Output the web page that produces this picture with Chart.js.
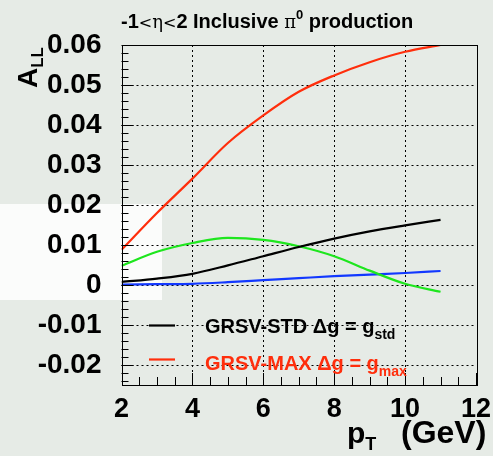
<!DOCTYPE html>
<html>
<head>
<meta charset="utf-8">
<script src="https://cdn.jsdelivr.net/npm/chart.js@4/dist/chart.umd.min.js"></script>
<style>
  html, body { margin: 0; padding: 0; background: #e6ebe6; }
  #wrap { position: relative; width: 493px; height: 456px; overflow: hidden; }
  canvas { display: block; }
</style>
</head>
<body>
<div id="wrap"><canvas id="c" width="493" height="456"></canvas></div>
<script>
const pt = [2, 3, 4, 5, 6, 7, 8, 9, 10, 11];
const grsvMax = [0.0088, 0.0180, 0.0266, 0.0355, 0.0424, 0.0483, 0.0524, 0.0557, 0.0583, 0.0600];
const grsvStd = [0.00075, 0.0016, 0.0028, 0.0049, 0.0072, 0.0095, 0.0116, 0.0134, 0.0149, 0.0163];
const green = [0.0048, 0.0083, 0.0105, 0.0118, 0.0113, 0.0097, 0.0072, 0.0036, 0.0003, -0.0017];
const blue = [0.0001, 0.0002, 0.0003, 0.0007, 0.0012, 0.0017, 0.0022, 0.0026, 0.0030, 0.0035];
const xTicks = [2, 4, 6, 8, 10, 12];
const yTicks = [-0.02, -0.01, 0, 0.01, 0.02, 0.03, 0.04, 0.05, 0.06];

const RED = '#ff2e0c', GRN = '#1ee61e', BLU = '#1238ff', BLK = '#000';
const F = '"Liberation Sans", Arial, Helvetica, sans-serif';

const pts = ys => pt.map((x, i) => ({ x, y: ys[i] }));
const line = (data, color) => ({ data: pts(data), borderColor: color, borderWidth: 2.2, pointRadius: 0, fill: false, tension: 0.4, cubicInterpolationMode: 'monotone' });

// text runs: [text, font, dy]
function runs(ctx, x, y, list, color) {
    ctx.fillStyle = color;
    list.forEach(([t, f, dy]) => { ctx.font = f; ctx.fillText(t, x, y + (dy || 0)); x += ctx.measureText(t).width; });
    return x;
}

const deco = {
    id: 'deco',
    beforeDraw(chart) {
        const { ctx } = chart;
        ctx.save();
        ctx.fillStyle = '#e6ebe6';
        ctx.fillRect(0, 0, chart.width, chart.height);
        ctx.fillStyle = '#fbfcfb';
        ctx.fillRect(0, 204, 162, 96);
        ctx.restore();
    },
    beforeDatasetsDraw(chart) {
        const { ctx, chartArea: a, scales: { x, y } } = chart;
        ctx.save();
        ctx.strokeStyle = '#000';
        ctx.lineWidth = 1;
        ctx.setLineDash([2, 3]);
        xTicks.slice(1, -1).forEach(v => { const px = Math.round(x.getPixelForValue(v)) + 0.5; ctx.beginPath(); ctx.moveTo(px, a.top); ctx.lineTo(px, a.bottom); ctx.stroke(); });
        yTicks.slice(0, -1).forEach(v => { const py = Math.round(y.getPixelForValue(v)) + 0.5; ctx.beginPath(); ctx.moveTo(a.left, py); ctx.lineTo(a.right, py); ctx.stroke(); });
        ctx.restore();
    },
    afterDraw(chart) {
        const { ctx, chartArea: a, scales: { x, y } } = chart;
        ctx.save();
        ctx.strokeStyle = '#000';
        ctx.lineWidth = 1;
        ctx.strokeRect(Math.round(a.left) + 0.5, Math.round(a.top) + 0.5, Math.round(a.right - a.left), Math.round(a.bottom - a.top));
        // minor / major ticks
        ctx.beginPath();
        for (let v = -0.024; v <= 0.0601; v += 0.002) {
            const py = Math.round(y.getPixelForValue(v)) + 0.5;
            const major = Math.abs(Math.round(v * 100) - v * 100) < 1e-6;
            ctx.moveTo(a.left, py); ctx.lineTo(a.left + (major ? 12 : 7), py);
        }
        for (let v = 2; v <= 12.001; v += 0.5) {
            const px = Math.round(x.getPixelForValue(v)) + 0.5;
            const major = v % 2 === 0;
            ctx.moveTo(px, a.bottom); ctx.lineTo(px, a.bottom - (major ? 12 : 8));
        }
        ctx.stroke();

        // title
        ctx.textBaseline = 'alphabetic';
        const tb = 'bold 20px ' + F, tn = '16px "DejaVu Sans", sans-serif', tg = '18px "DejaVu Serif", serif';
        runs(ctx, 121, 28, [['-1', tb], ['<', tn], ['η', tg], ['<', tn], ['2 Inclusive ', tb], ['π', tg], ['0', 'bold 13px ' + F, -9], [' production', tb]], BLK);

        // legend
        [[325.5, BLK, 'GRSV-STD Δg = g', 'std', 333], [359.5, RED, 'GRSV-MAX Δg = g', 'max', 370]].forEach(([ly, c, t, sub, by]) => {
            ctx.strokeStyle = c; ctx.lineWidth = 2.2;
            ctx.beginPath(); ctx.moveTo(149, ly); ctx.lineTo(175, ly); ctx.stroke();
            runs(ctx, 205, by, [[t, 'bold 20px ' + F], [sub, 'bold 14px ' + F, 6]], c);
        });

        // axis titles
        ctx.save();
        ctx.translate(37, 88);
        ctx.rotate(-Math.PI / 2);
        runs(ctx, 0, 0, [['A', 'bold 28px ' + F], ['LL', 'bold 17px ' + F, 6]], BLK);
        ctx.restore();
        runs(ctx, 347, 443, [['p', 'bold 30px ' + F], ['T', 'bold 18px ' + F, 7]], BLK);
        runs(ctx, 401, 443, [['(GeV)', 'bold 32px ' + F]], BLK);
        ctx.restore();
    }
};

new Chart(document.getElementById('c'), {
    type: 'line',
    data: { datasets: [line(grsvMax, RED), line(grsvStd, BLK), line(green, GRN), line(blue, BLU)] },
    options: {
        responsive: false,
        animation: false,
        layout: { padding: { left: 0, right: 17, top: 45, bottom: 0 } },
        plugins: { legend: { display: false }, tooltip: { enabled: false } },
        scales: {
            x: {
                type: 'linear', min: 2, max: 12,
                afterBuildTicks: s => { s.ticks = xTicks.map(value => ({ value })); },
                afterFit: s => { s.height = 71; },
                grid: { display: false }, border: { display: false },
                ticks: { color: BLK, padding: 0, maxRotation: 0, autoSkip: false, font: { family: F, weight: 'bold', size: 27 } }
            },
            y: {
                min: -0.025, max: 0.06,
                afterBuildTicks: s => { s.ticks = yTicks.map(value => ({ value })); },
                afterFit: s => { s.width = 121.5; },
                grid: { display: false }, border: { display: false },
                ticks: { color: BLK, padding: 12, font: { family: F, weight: 'bold', size: 28 }, callback: v => Math.abs(v) < 1e-9 ? '0' : v.toFixed(2) }
            }
        }
    },
    plugins: [deco]
});
</script>
</body>
</html>
